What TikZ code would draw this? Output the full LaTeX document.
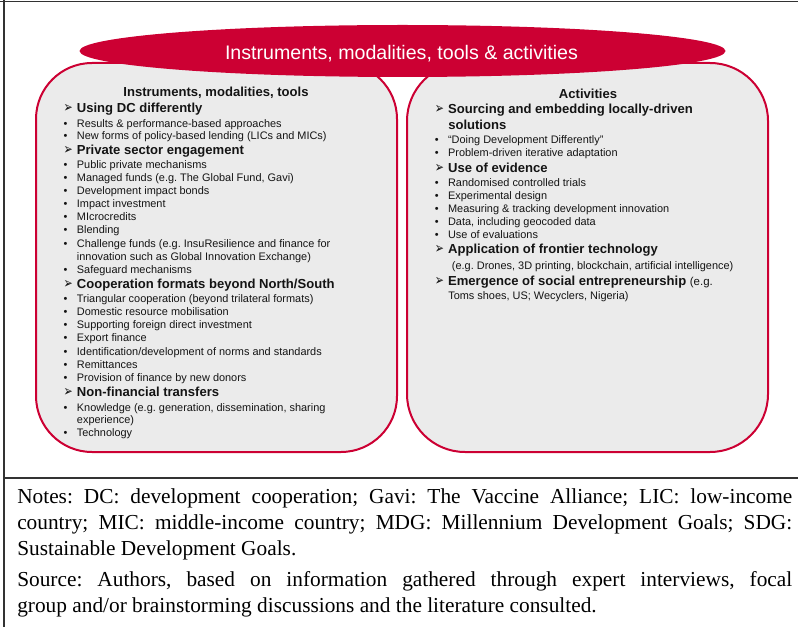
\documentclass[tikz,border=0pt]{standalone}
\usepackage{fontspec}
\setmainfont{Liberation Sans}
\newfontfamily\notesfont{Liberation Serif}
\newfontfamily\arrowfont{DejaVu Sans}
\usepackage{graphicx}
\usepackage{xcolor}
\usepackage{tikz}
\usetikzlibrary{shapes.geometric}
\definecolor{crimson}{RGB}{204,0,51}
\definecolor{boxgray}{RGB}{235,235,235}
\definecolor{framegray}{RGB}{50,50,50}
\definecolor{inkblack}{RGB}{20,20,20}
\frenchspacing
% list entries: arrow heading and bullet item
\newcommand{\hitem}[1]{\makebox[10pt][l]{\arrowfont\fontsize{12}{13}\selectfont\scalebox{0.68}[0.95]{➢}}\textbf{#1}}
\newcommand{\bitem}[1]{\makebox[10pt][l]{\textbullet}#1}
\tikzset{
panel/.style = {draw=crimson, fill=boxgray, line width=1.5pt, rounded corners=#1},
panel/.default = 42pt, % corner radius
head/.style = {anchor=base, inner sep=0pt, text=inkblack,
               font=\fontsize{9.8}{11}\selectfont\bfseries},
topic/.style = {anchor=base west, inner sep=0pt, text=inkblack,
                font=\fontsize{9.8}{11}\selectfont},
item/.style = {anchor=base west, inner sep=0pt, text=inkblack,
               font=\fontsize{8.2}{9.5}\selectfont},
note/.style = {anchor=base west, inner sep=0pt,
               font=\notesfont\fontsize{16}{19}\selectfont},
frame/.style = {draw=framegray, line width=1.1pt}
}

\begin{document}
\begin{tikzpicture}[x=0.75pt, y=-0.75pt]
  \useasboundingbox (0,0) rectangle (798,627);

  % table frame
  \draw[frame] (0,1.5) -- (798,1.5);
  \draw[frame] (4,0) -- (4,627);
  \draw[frame] (4,478) -- (798,478);

  % panels and title band
  \draw[panel] (36,63) rectangle (397,452);
  \draw[panel=43.5pt] (407,63) rectangle (768,452);
  \node[ellipse, fill=crimson, inner sep=0pt, minimum width=484.5pt, minimum height=39pt] (titleBand) at (402.5,51) {};
  \node[anchor=base, inner sep=0pt, text=white, font=\fontsize{14.7}{16}\selectfont] (titleText) at (401.5,59.3) {Instruments, modalities, tools \& activities};

  % left panel
  \node[head] (leftHead) at (216,96.7) {Instruments, modalities, tools};
  \node[topic] (usingDC) at (63.3,113) {\hitem{Using DC differently}};
  \node[item] (results) at (63.3,127.3) {\bitem{Results \& performance-based approaches}};
  \node[item] (newForms) at (63.3,140) {\bitem{New forms of policy-based lending (LICs and MICs)}};
  \node[topic] (privSector) at (63.3,155) {\hitem{Private sector engagement}};
  \node[item] (pubPriv) at (63.3,168.3) {\bitem{Public private mechanisms}};
  \node[item] (managed) at (63.3,181.7) {\bitem{Managed funds (e.g. The Global Fund, Gavi)}};
  \node[item] (bonds) at (63.3,195) {\bitem{Development impact bonds}};
  \node[item] (impact) at (63.3,207.3) {\bitem{Impact investment}};
  \node[item] (micro) at (63.3,220.7) {\bitem{MIcrocredits}};
  \node[item] (blending) at (63.3,233.3) {\bitem{Blending}};
  \node[item] (challenge) at (63.3,247.3) {\bitem{Challenge funds (e.g. InsuResilience and finance for}};
  \node[item] (challengeB) at (76.7,260.7) {innovation such as Global Innovation Exchange)};
  \node[item] (safeguard) at (63.3,273.3) {\bitem{Safeguard mechanisms}};
  \node[topic] (coopFormats) at (63.3,288.3) {\hitem{Cooperation formats beyond North/South}};
  \node[item] (triangular) at (63.3,302.7) {\bitem{Triangular cooperation (beyond trilateral formats)}};
  \node[item] (domestic) at (63.3,315.7) {\bitem{Domestic resource mobilisation}};
  \node[item] (fdi) at (63.3,328.3) {\bitem{Supporting foreign direct investment}};
  \node[item] (export) at (63.3,341.7) {\bitem{Export finance}};
  \node[item] (norms) at (63.3,355.7) {\bitem{Identification/development of norms and standards}};
  \node[item] (remit) at (63.3,368.3) {\bitem{Remittances}};
  \node[item] (donors) at (63.3,381.7) {\bitem{Provision of finance by new donors}};
  \node[topic] (nonFin) at (63.3,396.7) {\hitem{Non-financial transfers}};
  \node[item] (knowledge) at (63.3,411) {\bitem{Knowledge (e.g. generation, dissemination, sharing}};
  \node[item] (knowledgeB) at (76.7,423.3) {experience)};
  \node[item] (technology) at (63.3,436.7) {\bitem{Technology}};

  % right panel
  \node[head] (rightHead) at (588,99) {Activities};
  \node[topic] (sourcing) at (434.5,114) {\hitem{Sourcing and embedding locally-driven}};
  \node[topic] (sourcingB) at (448,130) {\textbf{solutions}};
  \node[item] (doingDD) at (434.5,143.3) {\bitem{“Doing Development Differently”}};
  \node[item] (pdia) at (434.5,156.7) {\bitem{Problem-driven iterative adaptation}};
  \node[topic] (evidence) at (434.5,172.7) {\hitem{Use of evidence}};
  \node[item] (rct) at (434.5,186) {\bitem{Randomised controlled trials}};
  \node[item] (experimental) at (434.5,199.3) {\bitem{Experimental design}};
  \node[item] (measuring) at (434.5,212.7) {\bitem{Measuring \& tracking development innovation}};
  \node[item] (geodata) at (434.5,225) {\bitem{Data, including geocoded data}};
  \node[item] (evaluations) at (434.5,238.3) {\bitem{Use of evaluations}};
  \node[topic] (frontier) at (434.5,253.3) {\hitem{Application of frontier technology}};
  \node[item] (frontierB) at (451.7,269.3) {(e.g. Drones, 3D printing, blockchain, artificial intelligence)};
  \node[topic] (social) at (434.5,285) {\hitem{Emergence of social entrepreneurship} {\fontsize{8.6}{10}\selectfont(e.g.}};
  \node[item] (socialB) at (448,299.3) {Toms shoes, US; Wecyclers, Nigeria)};

  % notes below the frame line
  \node[note] (notesA) at (17,503) {\makebox[581.25pt][s]{Notes: DC: development cooperation; Gavi: The Vaccine Alliance; LIC: low-income}};
  \node[note] (notesB) at (17,529) {\makebox[581.25pt][s]{country; MIC: middle-income country; MDG: Millennium Development Goals; SDG:}};
  \node[note] (notesC) at (17,555) {Sustainable Development Goals.};
  \node[note] (sourceA) at (17,586) {\makebox[581.25pt][s]{Source: Authors, based on information gathered through expert interviews, focal}};
  \node[note] (sourceB) at (17,612) {group and/or brainstorming discussions and the literature consulted.};
\end{tikzpicture}
\end{document}
